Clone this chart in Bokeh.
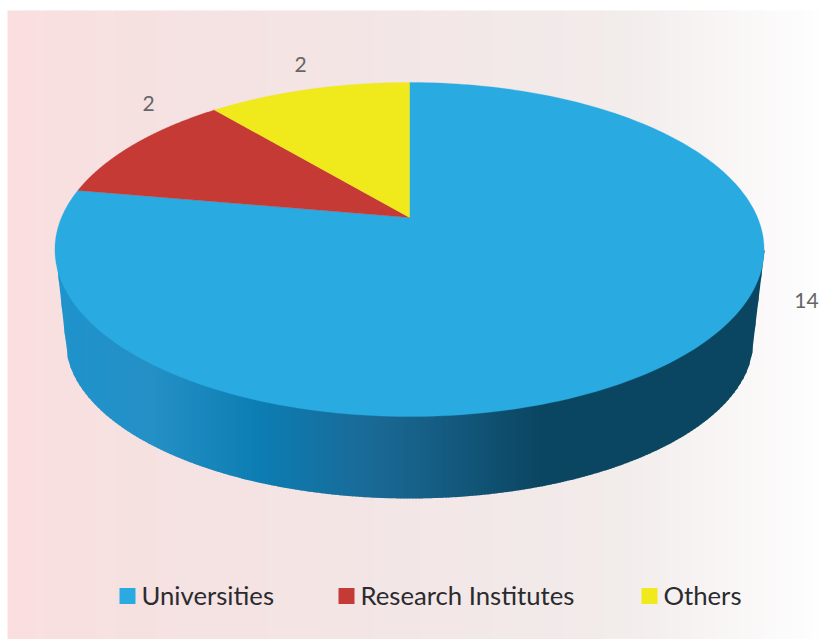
import numpy as np
from bokeh.plotting import figure
from bokeh.models import Range1d
from bokeh.core.properties import value
from bokeh.embed import file_html
from bokeh.resources import INLINE

# data
categories = ["Universities", "Research Institutes", "Others"]
counts = [14, 2, 2]
slice_colors = ["#29abe2", "#c53a34", "#f0e91c"]

# look
TEXT_FONT = "Lato"
label_color = "#666666"
legend_color = "#2b2b2f"
bg_stops_x = [7, 130, 400, 620, 819]
bg_stops_rgb = [(251, 223, 224), (246, 225, 225), (243, 230, 230), (242, 236, 235), (254, 254, 254)]
side_stops_x = [55, 150, 260, 370, 440, 540, 764]
side_stops_rgb = [(31, 147, 204), (36, 144, 198), (12, 125, 178), (26, 106, 150), (21, 92, 130), (10, 70, 97), (10, 70, 97)]

# layout of the tilted pie (pixels)
CX, CY = 409.0, 217.0
A, B, K = 348.0, 160.9, 0.1916
RIM_CX, RIM_CY, RIM_RX, RIM_RY = 409.0, 340.0, 344.0, 158.0
TOP_LEFT, TOP_RIGHT, TOP_MID_Y = 55.0, 764.0, 250.0

def project(theta):
    u, v = np.sin(theta), np.cos(theta)
    d = 1 + K * v
    return CX + A * u / d, CY - B * v / d

def lerp_stops(x, xs, rgbs):
    return tuple(int(round(np.interp(x, xs, [c[i] for c in rgbs]))) for i in range(3))

def hexc(c):
    return "#%02x%02x%02x" % c

p = figure(width=819, height=639, x_range=Range1d(0, 819), y_range=Range1d(639, 0),
           output_backend="svg", toolbar_location=None, min_border=0,
           background_fill_color="white", border_fill_color="white")
p.axis.visible = False
p.grid.visible = False
p.outline_line_color = None

# background gradient: each band runs under the next so no seams show
edges = np.arange(7, 820, 6)
edges = np.r_[edges, 819] if edges[-1] != 819 else edges
l, r, fc = [], [], []
for a, b in zip(edges[:-1], edges[1:]):
    l.append(a); r.append(min(b + 2, 819)); fc.append(hexc(lerp_stops((a + b) / 2, bg_stops_x, bg_stops_rgb)))
p.quad(left=l, right=r, top=[10] * len(l), bottom=[639] * len(l), fill_color=fc, line_color=None)

# side wall
def wall_edge_y(x):
    """y of the wall's lower outline at x, including the slanted ends"""
    if x < RIM_CX - RIM_RX:
        return TOP_MID_Y + (x - TOP_LEFT) / (RIM_CX - RIM_RX - TOP_LEFT) * (RIM_CY - TOP_MID_Y)
    if x > RIM_CX + RIM_RX:
        return TOP_MID_Y + (TOP_RIGHT - x) / (TOP_RIGHT - RIM_CX - RIM_RX) * (RIM_CY - TOP_MID_Y)
    t = (x - RIM_CX) / RIM_RX
    return RIM_CY + RIM_RY * np.sqrt(max(0.0, 1 - t * t))

xs_side = np.arange(TOP_LEFT, TOP_RIGHT, 3.0)
wx, wy, wc = [], [], []
for a in xs_side:
    b = min(a + 4.0, TOP_RIGHT)
    wx.append([a, b, b, a])
    wy.append([TOP_MID_Y, TOP_MID_Y, wall_edge_y(b), wall_edge_y(a)])
    wc.append(hexc(lerp_stops(a + 1.5, side_stops_x, side_stops_rgb)))
p.patches(wx, wy, fill_color=wc, line_color=None)

# top face: slices from the counts, clockwise from 12 o'clock
fractions = np.cumsum([0] + counts) / sum(counts) * 2 * np.pi
for start, end, col in zip(fractions[:-1], fractions[1:], slice_colors):
    th = np.linspace(start, end, 240)
    x, y = project(th)
    p.patch(np.r_[CX, x], np.r_[CY, y], fill_color=col, line_color=col, line_width=0.3)

# data labels
p.text(x=[806, 148, 300], y=[300, 103, 64], text=[str(c) for c in counts],
       text_font=value(TEXT_FONT), text_font_size="21px", text_color=label_color,
       text_align="center", text_baseline="middle")

# legend
p.rect(x=[127, 346, 649], y=[595.5] * 3, width=16, height=16, fill_color=slice_colors, line_color=None)
p.text(x=[141, 360, 663], y=[594.5] * 3, text=categories, text_font=value(TEXT_FONT),
       text_font_size="25.7px", text_color=legend_color, text_align="left", text_baseline="middle")

open("out.html", "w").write(file_html(p, INLINE))
